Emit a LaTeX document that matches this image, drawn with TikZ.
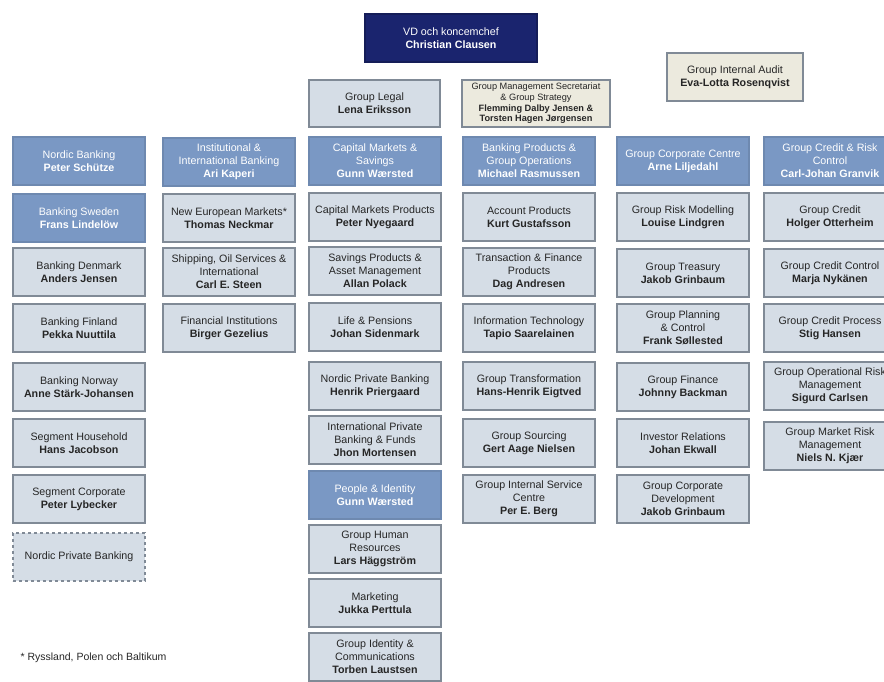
\documentclass[tikz,border=0pt]{standalone}
\usepackage{fontspec}
\setmainfont{Liberation Sans}
\definecolor{navy}{RGB}{26,36,110}
\definecolor{headfill}{RGB}{122,152,196}
\definecolor{boxfill}{RGB}{213,221,230}
\definecolor{boxline}{RGB}{128,138,150}
\definecolor{beige}{RGB}{236,234,222}

\begin{document}
\begin{tikzpicture}[x=1pt,y=-1pt,
    unit/.style={draw=boxline,fill=boxfill,line width=1.2pt,minimum width=132pt,minimum height=48pt,
      inner sep=1pt,align=center,text=black!85,font=\fontsize{10.7}{13}\selectfont},
    head/.style={unit,draw=headfill!90!black,fill=headfill,text=white},
    chef/.style={unit,draw=navy!80!black,fill=navy,text=white,minimum width=172pt},
    staff/.style={unit,fill=beige},
    planned/.style={unit,dashed}]
  \useasboundingbox (0,0) rectangle (884,681);
  \clip (0,0) rectangle (884,681);
  \node[chef] (vd) at (451,38) {VD och koncemchef\\\textbf{Christian Clausen}};
  \node[unit,minimum width=131pt,minimum height=47pt] (legal) at (374.5,103.5) {Group Legal\\\textbf{Lena Eriksson}};
  \node[staff,minimum width=148pt,minimum height=47pt,font=\fontsize{9.2}{10.6}\selectfont] (secr) at (536,103.5)
    {Group Management Secretariat\\\& Group Strategy\\\textbf{Flemming Dalby Jensen \&}\\\textbf{Torsten Hagen Jørgensen}};
  \node[staff,minimum width=136pt] (audit) at (735,77) {Group Internal Audit\\\textbf{Eva-Lotta Rosenqvist}};

  \node[head] (nb) at (79,161) {Nordic Banking\\\textbf{Peter Schütze}};
  \node[head] (nbse) at (79,218) {Banking Sweden\\\textbf{Frans Lindelöw}};
  \node[unit] (nbdk) at (79,272) {Banking Denmark\\\textbf{Anders Jensen}};
  \node[unit] (nbfi) at (79,328) {Banking Finland\\\textbf{Pekka Nuuttila}};
  \node[unit] (nbno) at (79,387) {Banking Norway\\\textbf{Anne Stärk-Johansen}};
  \node[unit] (nbhh) at (79,443) {Segment Household\\\textbf{Hans Jacobson}};
  \node[unit] (nbco) at (79,499) {Segment Corporate\\\textbf{Peter Lybecker}};
  \node[planned] (nbpb) at (79,557) {Nordic Private Banking};

  \node[head] (iib) at (229,162) {Institutional \&\\International Banking\\\textbf{Ari Kaperi}};
  \node[unit] (iinem) at (229,218) {New European Markets*\\\textbf{Thomas Neckmar}};
  \node[unit] (iiship) at (229,272) {Shipping, Oil Services \&\\International\\\textbf{Carl E. Steen}};
  \node[unit] (iifi) at (229,328) {Financial Institutions\\\textbf{Birger Gezelius}};

  \node[head] (cms) at (375,161) {Capital Markets \&\\Savings\\\textbf{Gunn Wærsted}};
  \node[unit] (cmp) at (375,217) {Capital Markets Products\\\textbf{Peter Nyegaard}};
  \node[unit] (spam) at (375,271) {Savings Products \&\\Asset Management\\\textbf{Allan Polack}};
  \node[unit] (lp) at (375,327) {Life \& Pensions\\\textbf{Johan Sidenmark}};
  \node[unit] (npb) at (375,386) {Nordic Private Banking\\\textbf{Henrik Priergaard}};
  \node[unit] (ipb) at (375,440) {International Private\\Banking \& Funds\\\textbf{Jhon Mortensen}};
  \node[head] (pid) at (375,495) {People \& Identity\\\textbf{Gunn Wærsted}};
  \node[unit] (ghr) at (375,549) {Group Human\\Resources\\\textbf{Lars Häggström}};
  \node[unit] (mkt) at (375,603) {Marketing\\\textbf{Jukka Perttula}};
  \node[unit] (gic) at (375,657) {Group Identity \&\\Communications\\\textbf{Torben Laustsen}};

  \node[head] (bpo) at (529,161) {Banking Products \&\\Group Operations\\\textbf{Michael Rasmussen}};
  \node[unit] (ap) at (529,217) {Account Products\\\textbf{Kurt Gustafsson}};
  \node[unit] (tfp) at (529,272) {Transaction \& Finance\\Products\\\textbf{Dag Andresen}};
  \node[unit] (it) at (529,328) {Information Technology\\\textbf{Tapio Saarelainen}};
  \node[unit] (gt) at (529,386) {Group Transformation\\\textbf{Hans-Henrik Eigtved}};
  \node[unit] (gs) at (529,443) {Group Sourcing\\\textbf{Gert Aage Nielsen}};
  \node[unit] (gis) at (529,499) {Group Internal Service\\Centre\\\textbf{Per E. Berg}};

  \node[head] (gcc) at (683,161) {Group Corporate Centre\\\textbf{Arne Liljedahl}};
  \node[unit] (grm) at (683,217) {Group Risk Modelling\\\textbf{Louise Lindgren}};
  \node[unit] (gtr) at (683,273) {Group Treasury\\\textbf{Jakob Grinbaum}};
  \node[unit] (gpc) at (683,328) {Group Planning\\\& Control\\\textbf{Frank Søllested}};
  \node[unit] (gfi) at (683,387) {Group Finance\\\textbf{Johnny Backman}};
  \node[unit] (ir) at (683,443) {Investor Relations\\\textbf{Johan Ekwall}};
  \node[unit] (gcd) at (683,499) {Group Corporate\\Development\\\textbf{Jakob Grinbaum}};

  \node[head] (gcr) at (830,161) {Group Credit \& Risk\\Control\\\textbf{Carl-Johan Granvik}};
  \node[unit] (gc) at (830,217) {Group Credit\\\textbf{Holger Otterheim}};
  \node[unit] (gcctl) at (830,273) {Group Credit Control\\\textbf{Marja Nykänen}};
  \node[unit] (gcp) at (830,328) {Group Credit Process\\\textbf{Stig Hansen}};
  \node[unit] (gorm) at (830,386) {Group Operational Risk\\Management\\\textbf{Sigurd Carlsen}};
  \node[unit] (gmrm) at (830,446) {Group Market Risk\\Management\\\textbf{Niels N. Kjær}};

  \node[anchor=west,text=black!85,font=\fontsize{10.5}{13}\selectfont] (note) at (17,658) {* Ryssland, Polen och Baltikum};
\end{tikzpicture}
\end{document}
